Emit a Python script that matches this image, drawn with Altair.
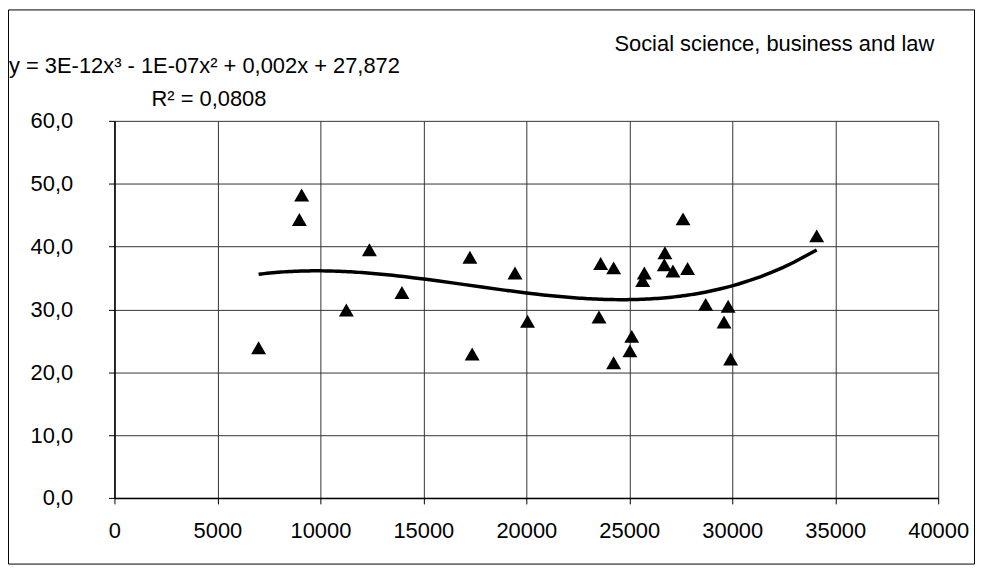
import altair as alt
import pandas as pd

# Data
x_values = [7000, 9090, 8980, 11260, 12380, 13960, 17260, 17370, 19450, 20060,
            23610, 23530, 24240, 24240, 25120, 25030, 25730, 25650, 26730, 26700,
            27120, 27830, 27610, 28710, 29800, 29600, 29920, 34100]
y_values = [23.9, 48.2, 44.3, 29.9, 39.5, 32.7, 38.3, 22.9, 35.8, 28.1,
            37.3, 28.8, 36.6, 21.5, 25.7, 23.4, 35.8, 34.6, 39.0, 37.1,
            36.1, 36.5, 44.4, 30.8, 30.5, 28.0, 22.1, 41.7]

x_ticks = list(range(0, 40001, 5000))
y_ticks = [0, 10, 20, 30, 40, 50, 60]

equation_text = "y = 3E-12x³ - 1E-07x² + 0,002x + 27,872"
r2_text = "R² = 0,0808"
title_text = "Social science, business and law"

df = pd.DataFrame({"x": x_values, "y": y_values})

FONT = "Liberation Sans"
W, H = 828, 379

xscale = alt.Scale(domain=[0, 40000], nice=False, zero=False)
yscale = alt.Scale(domain=[0, 60], nice=False)

x_axis = alt.Axis(values=x_ticks, labelExpr="format(datum.value, 'd')",
                  title=None, grid=True, tickSize=6, labelPadding=17,
                  labelFlush=False, labelOverlap=False)
y_axis = alt.Axis(values=y_ticks,
                  labelExpr="replace(format(datum.value, '.1f'), '.', ',')",
                  title=None, grid=True, tickSize=6, labelPadding=36,
                  labelOverlap=False)

base = alt.Chart(df)

points = base.mark_point(shape="triangle-up", filled=True, color="black",
                         size=225, opacity=1).encode(
    x=alt.X("x:Q", scale=xscale, axis=x_axis),
    y=alt.Y("y:Q", scale=yscale, axis=y_axis),
)

trend = base.transform_regression("x", "y", method="poly", order=3).mark_line(
    color="black", strokeWidth=3.5).encode(
    x=alt.X("x:Q", scale=xscale),
    y=alt.Y("y:Q", scale=yscale),
)

one = alt.Data(values=[{"a": 1}])

border = alt.Chart(one).mark_rect(fill=None, stroke="black", strokeWidth=1).encode(
    x=alt.value(-106.5), x2=alt.value(864.5),
    y=alt.value(-111.5), y2=alt.value(445.5),
)

eq = alt.Chart(one).mark_text(font=FONT, fontSize=22, align="left",
                              baseline="alphabetic", color="black",
                              text=equation_text).encode(
    x=alt.value(-106), y=alt.value(-48))

r2 = alt.Chart(one).mark_text(font=FONT, fontSize=22, align="center",
                              baseline="alphabetic", color="black",
                              text=r2_text).encode(
    x=alt.value(95), y=alt.value(-15))

ttl = alt.Chart(one).mark_text(font=FONT, fontSize=22, align="right",
                               baseline="alphabetic", color="black",
                               text=title_text).encode(
    x=alt.value(824), y=alt.value(-70))

chart = alt.layer(border, points, trend, eq, r2, ttl).properties(
    width=W, height=H,
    autosize=alt.AutoSizeParams(type="none"),
    padding={"left": 107, "top": 112, "right": 38, "bottom": 68},
    background="white",
).configure_view(stroke=None).configure_axis(
    labelFont=FONT, labelFontSize=22, labelColor="black",
    gridColor="#333333", gridWidth=1, gridOpacity=1,
    domainColor="black", domainWidth=1.5, tickColor="black", tickWidth=1,
)

chart.save("out.html", embed_options={"renderer": "svg", "actions": False})
